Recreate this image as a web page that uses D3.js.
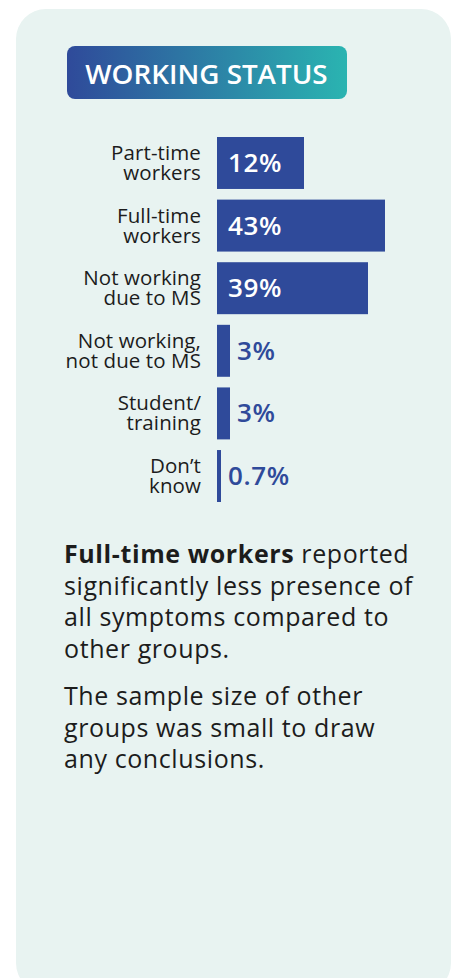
<!DOCTYPE html>
<html>
<head>
<meta charset="utf-8">
<script src="https://cdn.jsdelivr.net/npm/d3@7"></script>
<style>
  html, body { margin: 0; padding: 0; background: #ffffff; }
  svg { display: block; }
</style>
</head>
<body>
<svg id="chart" width="460" height="978"></svg>
<script>
// ---- data ----
const title = "WORKING STATUS";
const categories = [
  ["Part-time", "workers"],
  ["Full-time", "workers"],
  ["Not working", "due to MS"],
  ["Not working,", "not due to MS"],
  ["Student/", "training"],
  ["Don\u2019t", "know"]
];
const values = [12, 43, 39, 3, 3, 0.7];
const valueLabels = ["12%", "43%", "39%", "3%", "3%", "0.7%"];
const para1Bold = "Full-time workers";
const para1 = [" reported", "significantly less presence of", "all symptoms compared to", "other groups."];
const para2 = ["The sample size of other", "groups was small to draw", "any conclusions."];

// ---- styles ----
const barColor = "#2f4a9a";
const panelColor = "#e8f3f1";
const textColor = "#1c1c1c";
const font = "'Open Sans', 'Noto Sans', sans-serif";

const svg = d3.select("#chart");

// panel
svg.append("rect")
  .attr("x", 16).attr("y", 9).attr("width", 435).attr("height", 984)
  .attr("rx", 30).attr("fill", panelColor);

// header gradient
const defs = svg.append("defs");
const grad = defs.append("linearGradient").attr("id", "hdr")
  .attr("x1", "0%").attr("x2", "100%").attr("y1", "0%").attr("y2", "0%");
grad.append("stop").attr("offset", "0%").attr("stop-color", "#2f4a9a");
grad.append("stop").attr("offset", "100%").attr("stop-color", "#2ab4b1");

svg.append("rect")
  .attr("x", 67).attr("y", 46).attr("width", 280).attr("height", 53)
  .attr("rx", 8).attr("fill", "url(#hdr)");
svg.append("text")
  .attr("x", 206.5).attr("y", 83.5)
  .attr("text-anchor", "middle")
  .attr("font-family", font).attr("font-weight", 600)
  .attr("font-size", 27.8).attr("fill", "#ffffff")
  .text(title);

// ---- scales ----
const idx = d3.range(categories.length);
const y = d3.scaleBand().domain(idx).range([137, 502]).paddingInner(0.17).paddingOuter(0);
// designer's bar lengths are not proportional: piecewise (polylinear) scale
const x = d3.scaleLinear()
  .domain([0, 0.7, 3, 12, 39, 43])
  .range([0, 4, 13, 87, 151, 168]);
const x0 = 217;

const g = svg.append("g");

g.selectAll("rect.bar").data(idx).join("rect")
  .attr("class", "bar")
  .attr("x", x0)
  .attr("y", i => y(i))
  .attr("width", i => x(values[i]))
  .attr("height", y.bandwidth())
  .attr("fill", barColor);

// value labels
g.selectAll("text.val").data(idx).join("text")
  .attr("class", "val")
  .attr("x", i => values[i] >= 10 ? x0 + 11 : x0 + x(values[i]) + 7)
  .attr("y", i => y(i) + y.bandwidth() / 2 + 9)
  .attr("font-family", font).attr("font-weight", 600)
  .attr("font-size", 26).attr("letter-spacing", 0.6)
  .attr("fill", i => values[i] >= 10 ? "#ffffff" : barColor)
  .text(i => valueLabels[i]);

// category labels
const labs = g.selectAll("text.cat").data(idx).join("text")
  .attr("class", "cat")
  .attr("text-anchor", "end")
  .attr("font-family", font).attr("font-size", 20.5)
  .attr("letter-spacing", 0.1)
  .attr("fill", textColor);
labs.each(function(i) {
  const t = d3.select(this);
  const cy = y(i) + y.bandwidth() / 2;
  categories[i].forEach((line, k) => {
    t.append("tspan").attr("x", 201).attr("y", cy - 3 + k * 20).text(line);
  });
});

// paragraphs
const pFont = 25;
const pSpacing = 0.6;
const p1 = svg.append("text")
  .attr("font-family", font).attr("font-size", pFont)
  .attr("letter-spacing", pSpacing).attr("fill", textColor);
const first = p1.append("tspan").attr("x", 64).attr("y", 563);
first.append("tspan").attr("font-weight", 700).text(para1Bold);
first.append("tspan").text(para1[0]);
para1.slice(1).forEach((line, k) => {
  p1.append("tspan").attr("x", 64).attr("y", 563 + (k + 1) * 31.7).text(line);
});
const p2 = svg.append("text")
  .attr("font-family", font).attr("font-size", pFont)
  .attr("letter-spacing", pSpacing).attr("fill", textColor);
para2.forEach((line, k) => {
  p2.append("tspan").attr("x", 64).attr("y", 705 + k * 31.7).text(line);
});
</script>
</body>
</html>
